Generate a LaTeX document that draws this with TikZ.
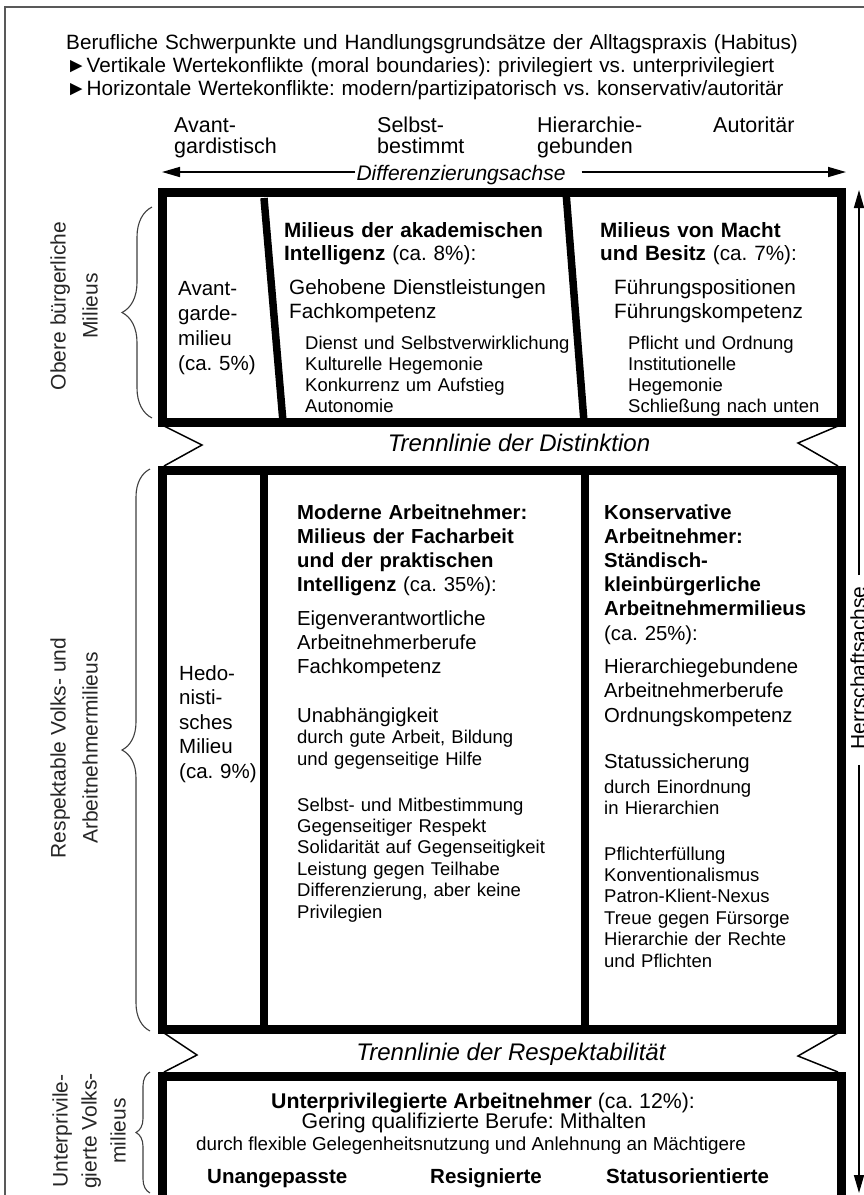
\documentclass[tikz,border=0pt]{standalone}
\usepackage{fontspec}
\setmainfont{Liberation Sans}
\usetikzlibrary{arrows.meta,decorations.pathreplacing}
\newcommand\fsz[2]{\fontsize{#1pt}{#2pt}\selectfont}
\frenchspacing
\begin{document}
\frenchspacing
\begin{tikzpicture}[x=1pt,y=-1pt,
  tx/.style={inner sep=0pt,anchor=base west,align=left,text width=330pt},
  ln/.style={inner sep=0pt,anchor=base},
  lnw/.style={inner sep=0pt,anchor=base west},
  rot/.style={inner sep=0pt,rotate=90,align=center,text=black!85},
  box/.style={line width=9pt},
  divider/.style={line width=7.5pt},
  chev/.style={line width=1.5pt},
  axis/.style={line width=1.6pt,-{Triangle[length=18pt,width=10pt]}},
  brc/.style={decorate,decoration={brace,amplitude=#1},line width=1.1pt,black!75},
  frame/.style={line width=1.2pt,black!65}
]
\useasboundingbox (0,0) rectangle (864,1195);
\fill[white] (0,0) rectangle (864,1195);
\draw[frame] (5,7) rectangle (900,1240);

% title
\node[tx,text width=800pt,font=\fsz{20.7}{23}] (title) at (66,49)
  {Berufliche Schwerpunkte und Handlungsgrundsätze der Alltagspraxis (Habitus)\\
   ►Vertikale Wertekonflikte (moral boundaries): privilegiert vs. unterprivilegiert\\
   ►Horizontale Wertekonflikte: modern/partizipatorisch vs. konservativ/autoritär};

% axis labels
\node[tx,font=\fsz{21.5}{21.6}] (ax1) at (174,132) {Avant-\\gardistisch};
\node[tx,font=\fsz{21.5}{21.6}] (ax2) at (377,132) {Selbst-\\bestimmt};
\node[tx,font=\fsz{21.5}{21.6}] (ax3) at (537,132) {Hierarchie-\\gebunden};
\node[tx,font=\fsz{21.5}{21.6}] (ax4) at (713,132) {Autoritär};

% Differenzierungsachse
\node[ln,font=\fsz{21}{24}\itshape] (dax) at (461,180) {Differenzierungsachse};
\coordinate (dl) at (162,172);
\coordinate (dr) at (846,172);
\coordinate (dle) at ([xshift=-1pt]dax.west);
\coordinate (dre) at ([xshift=16pt]dax.east);
\draw[axis] (dle |- dl) -- (dl);
\draw[axis] (dre |- dr) -- (dr);

% Herrschaftsachse
\node[rot,font=\fsz{21}{24},text=black] (hax) at (858,668) {Herrschaftsachse};
\coordinate (ht) at (859,190);
\coordinate (hb) at (859,1193);
\coordinate (hte) at ([yshift=11pt]hax.east);
\coordinate (hbe) at ([yshift=-15pt]hax.west);
\draw[axis] (hte -| ht) -- (ht);
\draw[axis] (hbe -| hb) -- (hb);

% boxes
\draw[box] (162,192) rectangle (841,422);
\draw[divider] (264,198) -- (283,422);
\draw[divider] (566,192) -- (584,422);
\draw[box] (162,470) rectangle (841,1029);
\draw[divider] (264,470) -- (264,1029);
\draw[divider] (585,470) -- (585,1029);
\draw[box] (162,1225) -- (162,1076) -- (841,1076) -- (841,1225);

% separation chevrons
\draw[chev] (164,426) -- (202,445) -- (164,466);
\draw[chev] (838,426) -- (798,443) -- (838,466);
\draw[chev] (164,1033) -- (197,1055) -- (164,1072);
\draw[chev] (838,1033) -- (798,1056) -- (838,1072);
\node[ln,font=\fsz{24}{26}\itshape] (tr1) at (519,451) {Trennlinie der Distinktion};
\node[ln,font=\fsz{24}{26}\itshape] (tr2) at (511,1060) {Trennlinie der Respektabilität};

% braces and side labels
\draw[brc=30pt] (152,418) -- (152,207);
\draw[brc=28pt] (150,1031) -- (150,469);
\draw[brc=14pt] (150,1193) -- (150,1072);
\node[rot,font=\fsz{21}{32}] (lob) at (74,306) {Obere bürgerliche\\Milieus};
\node[rot,font=\fsz{21}{32}] (lres) at (74,748) {Respektable Volks- und\\Arbeitnehmermilieus};
\node[rot,font=\fsz{21}{29}] (lunt) at (89,1131) {Unterprivile-\\gierte Volks-\\milieus};

% upper box texts
\node[tx,font=\fsz{20.5}{25.3}] (av) at (178,295) {Avant-\\garde-\\milieu\\(ca. 5\%)};
\node[tx,font=\fsz{20.7}{23}] (ak1) at (284,237) {\textbf{Milieus der akademischen}\\\textbf{Intelligenz} (ca. 8\%):};
\node[tx,font=\fsz{20.7}{24}] (ak2) at (289,294) {Gehobene Dienstleistungen\\Fachkompetenz};
\node[tx,font=\fsz{18.5}{21}] (ak3) at (305,349) {Dienst und Selbstverwirklichung\\Kulturelle Hegemonie\\Konkurrenz um Aufstieg\\Autonomie};
\node[tx,font=\fsz{20.7}{23}] (mb1) at (600,237) {\textbf{Milieus von Macht}\\\textbf{und Besitz} (ca. 7\%):};
\node[tx,font=\fsz{20.7}{24}] (mb2) at (614,294) {Führungspositionen\\Führungskompetenz};
\node[tx,font=\fsz{18.5}{21}] (mb3) at (628,349) {Pflicht und Ordnung\\Institutionelle\\Hegemonie\\Schließung nach unten};

% middle box texts
\node[tx,font=\fsz{20.5}{24.5}] (hed) at (179,680) {Hedo-\\nisti-\\sches\\Milieu\\(ca. 9\%)};
\node[tx,font=\fsz{20.3}{24.3}] (mo1) at (297,519) {\textbf{Moderne Arbeitnehmer:}\\\textbf{Milieus der Facharbeit}\\\textbf{und der praktischen}\\\textbf{Intelligenz} (ca. 35\%):};
\node[tx,font=\fsz{20.3}{24}] (mo2) at (297,625) {Eigenverantwortliche\\Arbeitnehmerberufe\\Fachkompetenz};
\node[tx,font=\fsz{20.3}{24}] (mo3) at (297,722) {Unabhängigkeit};
\node[tx,font=\fsz{18.5}{22}] (mo4) at (297,743) {durch gute Arbeit, Bildung\\und gegenseitige Hilfe};
\node[tx,font=\fsz{18.5}{21.4}] (mo5) at (297,811) {Selbst- und Mitbestimmung\\Gegenseitiger Respekt\\Solidarität auf Gegenseitigkeit\\Leistung gegen Teilhabe\\Differenzierung, aber keine\\Privilegien};
\node[tx,font=\fsz{20.3}{24.2}] (ko1) at (604,519) {\textbf{Konservative}\\\textbf{Arbeitnehmer:}\\\textbf{Ständisch-}\\\textbf{kleinbürgerliche}\\\textbf{Arbeitnehmermilieus}\\(ca. 25\%):};
\node[tx,font=\fsz{20.3}{24.5}] (ko2) at (604,673) {Hierarchiegebundene\\Arbeitnehmerberufe\\Ordnungskompetenz};
\node[tx,font=\fsz{20.3}{24}] (ko3) at (604,768) {Statussicherung};
\node[tx,font=\fsz{18.5}{21}] (ko4) at (604,793) {durch Einordnung\\in Hierarchien};
\node[tx,font=\fsz{18.5}{21.4}] (ko5) at (604,860) {Pflichterfüllung\\Konventionalismus\\Patron-Klient-Nexus\\Treue gegen Fürsorge\\Hierarchie der Rechte\\und Pflichten};

% lower box texts
\node[ln,font=\fsz{21.3}{24}] (up1) at (483,1108) {\textbf{Unterprivilegierte Arbeitnehmer} (ca. 12\%):};
\node[ln,font=\fsz{21.3}{24}] (up2) at (474,1128) {Gering qualifizierte Berufe: Mithalten};
\node[ln,font=\fsz{18.8}{22}] (up3) at (471,1150) {durch flexible Gelegenheitsnutzung und Anlehnung an Mächtigere};
\node[lnw,font=\fsz{20.5}{24}\bfseries] (un1) at (207,1183) {Unangepasste};
\node[lnw,font=\fsz{20.5}{24}\bfseries] (un2) at (430,1183) {Resignierte};
\node[lnw,font=\fsz{20.5}{24}\bfseries] (un3) at (606,1183) {Statusorientierte};
\end{tikzpicture}
\end{document}
